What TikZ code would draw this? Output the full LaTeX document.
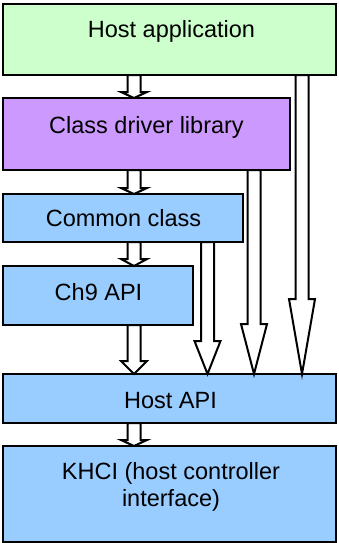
\documentclass[tikz,border=0pt]{standalone}
\usepackage{fontspec}
\setmainfont{Liberation Sans}
\usetikzlibrary{calc}

\definecolor{appgreen}{HTML}{CCFFCC}
\definecolor{libpurple}{HTML}{CC99FF}
\definecolor{apiblue}{HTML}{99CCFF}

% hollow block arrow: start, end, head length
\newcommand{\blockarrow}[3]{%
  \draw[barrow] let \p1=(#1), \p2=(#2) in
    (\x1-6.5pt,\y1) -- (\x1+6.5pt,\y1) -- (\x1+6.5pt,\y2+#3pt)
    -- (\x1+13pt,\y2+#3pt) -- (\x1,\y2) -- (\x1-13pt,\y2+#3pt)
    -- (\x1-6.5pt,\y2+#3pt) -- cycle;}

\begin{document}
\begin{tikzpicture}[x=1pt, y=-1pt,
  box/.style={draw, line width=2pt, rectangle, anchor=north west, inner sep=0pt, outer sep=0pt},
  lbl/.style={anchor=base, inner sep=0pt, font=\fontsize{23.5}{27.4}\selectfont},
  barrow/.style={draw, fill=white, line width=2pt, line join=miter}]
  \useasboundingbox (0,0) rectangle (338,543);

  \node[box, fill=appgreen, minimum width=333pt, minimum height=71pt] (hostapp) at (3,4) {};
  \node[box, fill=libpurple, minimum width=287pt, minimum height=72pt] (classlib) at (3,98) {};
  \node[box, fill=apiblue, minimum width=240pt, minimum height=48pt] (common) at (3,194) {};
  \node[box, fill=apiblue, minimum width=190pt, minimum height=59pt] (chnine) at (3,266) {};
  \node[box, fill=apiblue, minimum width=333pt, minimum height=49pt] (hostapi) at (3,374) {};
  \node[box, fill=apiblue, minimum width=333pt, minimum height=96pt] (khci) at (3,446) {};

  \node[lbl] (hostapptext) at (171.5,37.3) {Host application};
  \node[lbl] (classlibtext) at (146.5,133.3) {Class driver library};
  \node[lbl] (commontext) at (123.5,226.7) {Common class};
  \node[lbl] (chninetext) at (98.5,300) {Ch9 API};
  \node[lbl] (hostapitext) at (170.5,408.3) {Host API};
  \node[lbl, align=center] (khcitext) at (171,506.7) {KHCI (host controller\\interface)};

  \coordinate (colA) at (134,0);
  \coordinate (colB) at (207.5,0);
  \coordinate (colC) at (254,0);
  \coordinate (colD) at (302,0);

  \blockarrow{hostapp.south -| colA}{classlib.north -| colA}{6}
  \blockarrow{classlib.south -| colA}{common.north -| colA}{6}
  \blockarrow{common.south -| colA}{chnine.north -| colA}{7}
  \blockarrow{chnine.south -| colA}{hostapi.north -| colA}{13}
  \blockarrow{hostapi.south -| colA}{khci.north -| colA}{6}
  \blockarrow{common.south -| colB}{hostapi.north -| colB}{33}
  \blockarrow{classlib.south -| colC}{hostapi.north -| colC}{50}
  \blockarrow{hostapp.south -| colD}{hostapi.north -| colD}{75}
\end{tikzpicture}
\end{document}
